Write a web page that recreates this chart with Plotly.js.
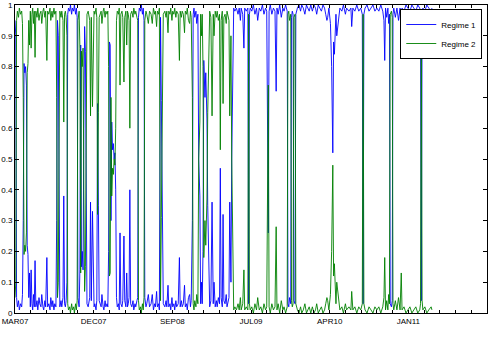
<!DOCTYPE html>
<html>
<head>
<meta charset="utf-8">
<script src="https://cdn.plot.ly/plotly-3.0.1.min.js"></script>
<style>html,body{margin:0;padding:0;background:#fff}#chart{width:489px;height:338px}</style>
</head>
<body>
<div id="chart"></div>
<script>
// trading-day index of each observation
const dayIndex = [
0,2,4,6,9,11,14,17,19,21,23,25,27,29,31,33,35,37,39,41,
43,45,47,49,51,53,56,58,61,63,66,68,71,73,76,78,81,83,86,89,
91,94,96,99,101,104,106,108,110,112,114,117,119,122,124,126,128,130,132,134,
136,139,141,144,146,149,151,154,156,158,160,163,165,167,169,171,173,175,177,179,
181,183,186,188,190,192,194,197,199,201,203,206,208,210,212,214,219,221,224,226,
229,231,234,236,238,240,242,244,246,248,250,252,254,256,258,260,263,265,267,269,
272,274,277,279,282,284,286,288,290,292,294,297,300,302,305,307,310,312,314,316,
319,321,324,326,328,330,333,335,339,342,346,349,352,355,357,360,362,365,367,370,
372,375,377,381,384,386,389,391,394,396,399,401,404,406,409,411,415,418,420,423,
425,428,431,433,436,438,441,444,446,448,451,453,455,457,460,462,465,467,470,472,
474,476,478,480,483,485,488,490,493,495,498,501,504,506,509,512,514,517,520,522,
524,527,529,531,534,537,539,542,544,546,549,551,554,556,559,563,567,570,573,575,
579,582,584,588,592,594,596,598,602,606,610,614,617,621,625,629,633,637,640,644,
646,649,653,657,661,664,666,669,673,677,681,684,688,692,694,696,698,701,703,705,
707,709,712,714,718,722,726,729,733,737,741,745,748,752,756,760,764,767,771,775,
779,783,787,790,793,795,798,802,805,808,810,812,814,816,818,823,826,831,835,840,
843,849,854,856,859,864,869,874,879,883,885,887,890,895,900,905,910,915,920,925,
930,935,938,940,942,945,948,950,952,954,957,959,961,963,967,971,975,979,982,984,
989,994,999,1004,1009,1014,1019,1024,1029,1031,1033,1035,1037,1042,1047,1052,1058,1060
];

const regime1 = [
.95,.90,.05,.02,.04,.01,.03,.02,.06,.30,.81,.78,.80,.74,.22,.19,.05,.13,.02,.14,
.03,.01,.06,.02,.17,.02,.04,.01,.05,.03,.02,.06,.02,.01,.04,.02,.18,.02,.03,.01,
.05,.02,.04,.01,.03,.02,.30,.95,.90,.10,.02,.04,.02,.05,.38,.03,.02,.04,.10,.97,
.99,.98,1.00,.97,.99,.98,1.00,.97,.99,.96,.05,.02,.14,.87,.15,.20,.14,.60,.93,.85,
.15,.03,.02,.04,.05,.36,.04,.33,.05,.02,.03,.01,.04,.68,.35,.04,.02,.06,.02,.01,
.04,.02,.03,.02,.20,.88,.87,.30,.62,.53,.55,.50,.52,.40,.05,.02,.03,.01,.26,.03,
.02,.04,.25,.04,.02,.13,.02,.03,.05,.40,.03,.02,.04,.01,.03,.02,.04,.05,.96,.99,
.98,1.00,.97,.99,.95,.05,.02,.03,.06,.02,.03,.06,.01,.03,.02,.07,.02,.03,.01,.96,
.69,.30,.03,.02,.04,.02,.09,.02,.03,.01,.05,.02,.03,.01,.04,.02,.03,.18,.02,.04,
.02,.03,.09,.02,.03,.01,.05,.06,.02,.04,.30,.97,.99,.96,.98,.94,.97,.50,.38,.03,
.10,.03,.20,.82,.70,.78,.63,.35,.05,.02,.04,.36,.03,.10,.02,.04,.02,.05,.03,.47,
.05,.02,.32,.04,.03,.06,.02,.04,.05,.36,.10,.50,.96,.99,.98,.99,.97,.99,.95,.99,
.97,.86,.99,.98,.99,.03,.97,.99,.98,1.00,.97,.99,.95,.99,.98,1.00,.97,.99,.98,.26,
.98,1.00,.97,.99,.98,.72,.99,.97,1.00,.96,.99,.98,1.00,.98,.03,.02,.05,.03,.96,.98,
.97,.04,.03,.97,.99,1.00,.98,1.00,.99,.97,1.00,.99,.98,1.00,.98,1.00,.99,.97,1.00,.99,
.98,1.00,.99,.97,.95,.96,.99,.94,.80,.52,.88,.84,.95,.97,.90,.96,.99,.98,1.00,.97,
.99,.98,.99,.93,.99,.98,1.00,.98,.99,.97,.03,.97,.99,1.00,.98,.99,1.00,.98,.99,.98,
1.00,.98,.95,.82,.99,.96,.99,.94,.97,.03,.02,.04,.97,.99,.96,.99,.95,.99,.87,.99,
.98,1.00,.99,.98,1.00,.99,.98,1.00,.99,.97,.04,.96,.99,.98,1.00,.99,.98,.99
];

const regime2 = [
.05,.10,.95,.98,.96,.99,.97,.98,.94,.70,.19,.22,.20,.26,.78,.81,.95,.87,.98,.86,
.97,.99,.94,.98,.83,.98,.96,.99,.95,.97,.98,.94,.98,.99,.96,.98,.82,.98,.97,.99,
.95,.98,.96,.99,.97,.98,.70,.05,.10,.90,.98,.96,.98,.95,.62,.97,.98,.96,.90,.03,
.01,.02,0,.03,.01,.02,0,.03,.01,.04,.95,.98,.86,.13,.85,.80,.86,.40,.07,.15,
.85,.97,.98,.96,.95,.64,.96,.67,.95,.98,.97,.99,.96,.32,.65,.96,.98,.94,.98,.99,
.96,.98,.97,.98,.80,.12,.13,.70,.38,.47,.45,.50,.48,.60,.95,.98,.97,.99,.74,.97,
.98,.96,.75,.96,.98,.87,.98,.97,.95,.60,.97,.98,.96,.99,.97,.98,.96,.95,.04,.01,
.02,0,.03,.01,.05,.95,.98,.97,.94,.98,.97,.94,.99,.97,.98,.93,.98,.97,.99,.04,
.31,.70,.97,.98,.96,.98,.91,.98,.97,.99,.95,.98,.97,.99,.96,.98,.97,.82,.98,.96,
.98,.97,.91,.98,.97,.99,.95,.94,.98,.96,.70,.03,.01,.04,.02,.06,.03,.50,.62,.97,
.90,.97,.80,.18,.30,.22,.37,.65,.95,.98,.96,.64,.97,.90,.98,.96,.98,.95,.97,.53,
.95,.98,.68,.96,.97,.94,.98,.96,.95,.64,.90,.50,.04,.01,.02,.01,.03,.01,.05,.01,
.03,.14,.01,.02,.01,.97,.03,.01,.02,0,.03,.01,.05,.01,.02,0,.03,.01,.02,.74,
.02,0,.03,.01,.02,.28,.01,.03,0,.04,.01,.02,0,.02,.97,.98,.95,.97,.04,.02,
.03,.96,.97,.03,.01,0,.02,0,.01,.03,0,.01,.02,0,.02,0,.01,.03,0,.01,
.02,0,.01,.03,.05,.04,.01,.06,.20,.48,.12,.16,.05,.03,.10,.04,.01,.02,0,.03,
.01,.02,.01,.07,.01,.02,0,.02,.01,.03,.97,.03,.01,0,.02,.01,0,.02,.01,.02,
0,.02,.05,.18,.01,.04,.01,.06,.03,.97,.98,.96,.03,.01,.04,.01,.05,.01,.13,.01,
.02,0,.01,.02,0,.01,.02,0,.01,.03,.96,.04,.01,.02,0,.01,.02,.01
];

const tickDays = [0,40,80,120,160,200,240,280,320,360,400,440,480,520,560,600,640,680,720,760,800,840,880,920,960,1000,1040,1080,1120,1160,1200];
const tickLabels = ['MAR07','','','','','DEC07','','','','','SEP08','','','','','JUL09','','','','','APR10','','','','','JAN11','','','','',''];
const yTicks = [0,0.1,0.2,0.3,0.4,0.5,0.6,0.7,0.8,0.9,1];
const yLabels = ['0','0.1','0.2','0.3','0.4','0.5','0.6','0.7','0.8','0.9','1'];

const font = {family: '"Liberation Sans", Arial, Helvetica, sans-serif', size: 8, color: '#000'};

const traces = [
  {x: dayIndex, y: regime1, type: 'scatter', mode: 'lines', name: 'Regime 1',
   line: {color: '#0000ff', width: 0.9}},
  {x: dayIndex, y: regime2, type: 'scatter', mode: 'lines', name: 'Regime 2',
   line: {color: '#008000', width: 0.9}}
];

const axisCommon = {
  showgrid: false, zeroline: false, showline: true, linecolor: '#000', linewidth: 1,
  mirror: 'ticks', ticks: 'inside', tickcolor: '#000', tickwidth: 1, tickfont: font,
  tickmode: 'array', fixedrange: true
};

const layout = {
  width: 489, height: 338,
  margin: {l: 15, r: 2, t: 5, b: 25, pad: 0},
  paper_bgcolor: '#fff', plot_bgcolor: '#fff',
  font: font,
  showlegend: true,
  legend: {
    x: 0.99, y: 0.987, xanchor: 'right', yanchor: 'top',
    bgcolor: '#fff', bordercolor: '#000', borderwidth: 1,
    font: font, tracegroupgap: 0, itemwidth: 30
  },
  xaxis: Object.assign({}, axisCommon, {
    range: [0, 1200], tickvals: tickDays, ticktext: tickLabels, ticklen: 3
  }),
  yaxis: Object.assign({}, axisCommon, {
    range: [0, 1], tickvals: yTicks, ticktext: yLabels, ticklen: 4
  })
};

Plotly.newPlot('chart', traces, layout, {staticPlot: true, displayModeBar: false});
</script>
</body>
</html>
